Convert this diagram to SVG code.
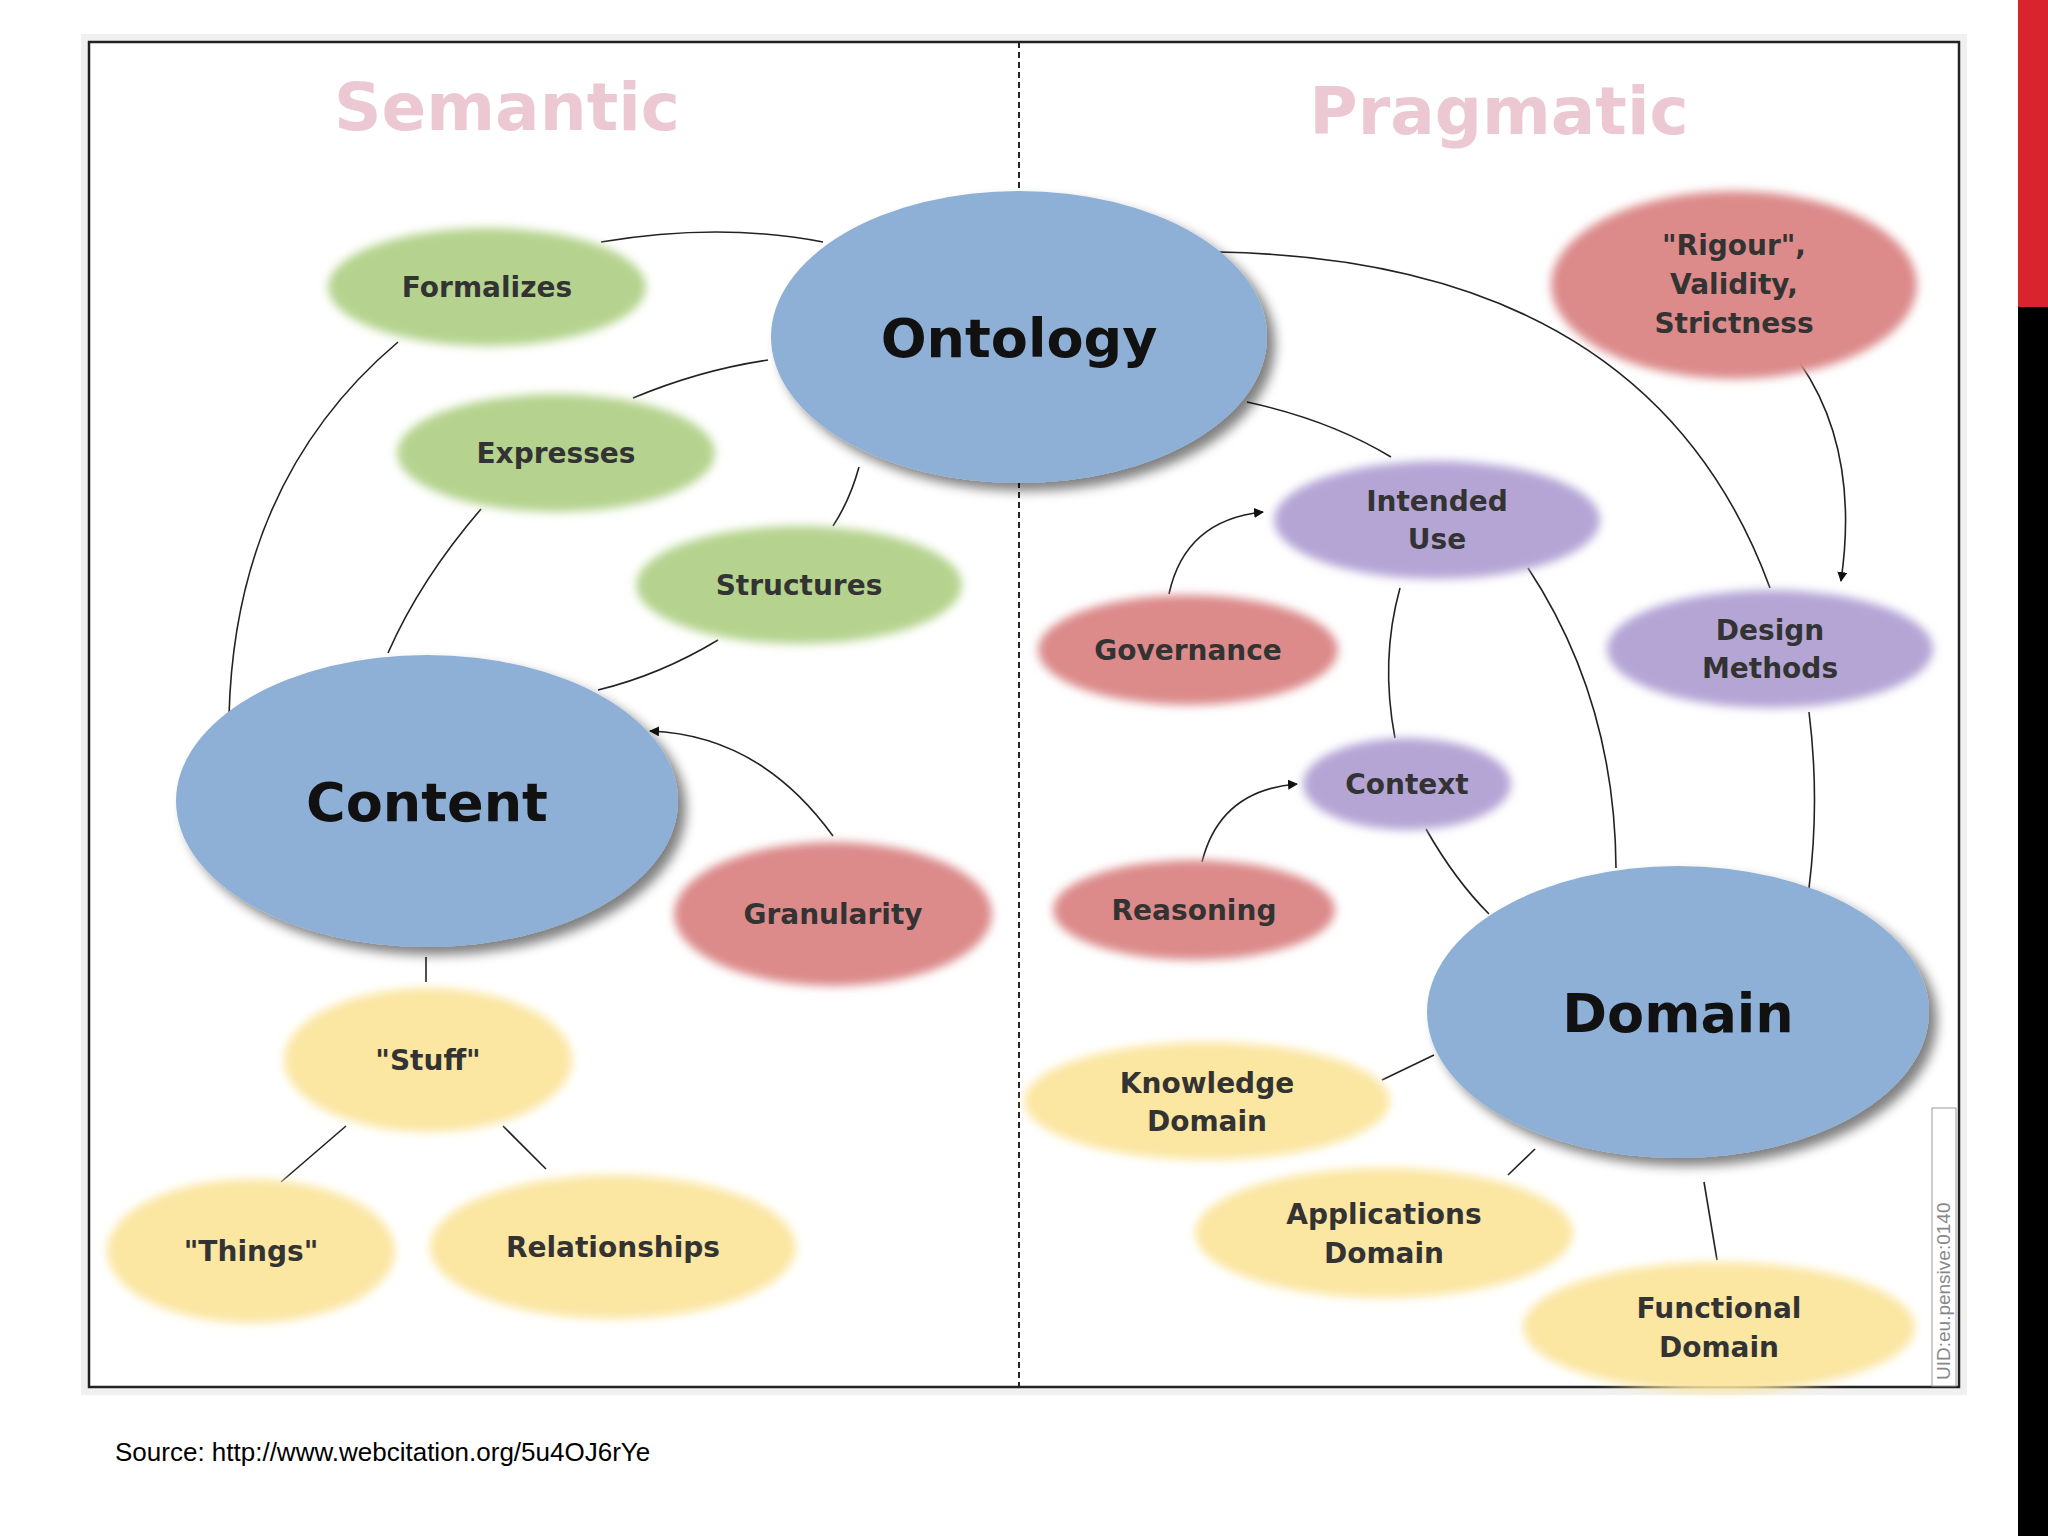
<svg xmlns="http://www.w3.org/2000/svg" width="2048" height="1536" viewBox="0 0 2048 1536">
<defs>
<filter id="soft" x="-20%" y="-20%" width="140%" height="140%"><feGaussianBlur stdDeviation="5"/></filter>
<filter id="sh" x="-20%" y="-20%" width="150%" height="150%"><feGaussianBlur in="SourceAlpha" stdDeviation="6"/><feOffset dx="8" dy="8"/><feComponentTransfer><feFuncA type="linear" slope="0.5"/></feComponentTransfer><feMerge><feMergeNode/><feMergeNode in="SourceGraphic"/></feMerge></filter>
<marker id="ah" viewBox="0 0 10 10" refX="9" refY="5" markerWidth="10" markerHeight="10" orient="auto" markerUnits="userSpaceOnUse"><path d="M0,0 L10,5 L0,10 z" fill="#111"/></marker>
</defs>
<style>
.g{fill:#b5d38e}.b{fill:#8fb0d6}.r{fill:#dc8a8a}.y{fill:#fbe6a2}.p{fill:#b4a5d5}
.t{font-family:"DejaVu Sans",sans-serif;font-weight:bold;font-size:28px;fill:#333;text-anchor:middle}
.big{font-family:"DejaVu Sans",sans-serif;font-weight:bold;font-size:54px;fill:#111;text-anchor:middle}
.ttl{font-family:"DejaVu Sans",sans-serif;font-weight:bold;font-size:66px;fill:#ecc9d2;text-anchor:middle}
.c path{fill:none;stroke:#222;stroke-width:1.6}
</style>
<rect width="2048" height="1536" fill="#fff"/>
<rect x="2018" y="0" width="30" height="307" fill="#d9232d"/>
<rect x="2018" y="307" width="30" height="1229" fill="#000"/>
<rect x="81" y="34" width="1886" height="1361" fill="#f0f0f0"/>
<rect x="89" y="42" width="1870" height="1345" fill="#fff" stroke="#222" stroke-width="2.5"/>
<line x1="1019" y1="42" x2="1019" y2="1387" stroke="#222" stroke-width="2" stroke-dasharray="6,4"/>
<text class="ttl" x="507" y="130">Semantic</text>
<text class="ttl" x="1499" y="134">Pragmatic</text>
<g class="c">
<path d="M601,242 Q720,222 823,242"/>
<path d="M398,342 Q235,480 229,716"/>
<path d="M633,398 Q700,370 768,360"/>
<path d="M481,509 Q420,580 388,653"/>
<path d="M833,526 Q850,500 859,467"/>
<path d="M718,640 Q660,675 598,690"/>
<path d="M833,836 Q760,735 650,731" marker-end="url(#ah)"/>
<path d="M426,957 L426,982"/>
<path d="M346,1126 L281,1182"/>
<path d="M503,1126 L546,1169"/>
<path d="M1218,252 Q1650,260 1770,588"/>
<path d="M1800,363 Q1860,450 1841,581" marker-end="url(#ah)"/>
<path d="M1247,402 Q1330,420 1391,457"/>
<path d="M1169,594 Q1185,520 1263,512" marker-end="url(#ah)"/>
<path d="M1400,588 Q1380,660 1395,738"/>
<path d="M1528,568 Q1615,700 1616,868"/>
<path d="M1809,712 Q1820,800 1809,888"/>
<path d="M1202,862 Q1220,790 1297,784" marker-end="url(#ah)"/>
<path d="M1426,829 Q1455,880 1489,914"/>
<path d="M1382,1080 L1434,1055"/>
<path d="M1508,1175 L1535,1149"/>
<path d="M1704,1182 L1717,1260"/>
</g>
<g id="ontology"><ellipse class="b" cx="1019" cy="337" rx="248" ry="146" filter="url(#sh)"/><text class="big" x="1019" y="357">Ontology</text></g>
<g id="content"><ellipse class="b" cx="427" cy="801" rx="251" ry="146" filter="url(#sh)"/><text class="big" x="427" y="821">Content</text></g>
<g id="domain"><ellipse class="b" cx="1678" cy="1012" rx="251" ry="146" filter="url(#sh)"/><text class="big" x="1678" y="1032">Domain</text></g>
<g id="formalizes"><ellipse class="g" cx="487" cy="287" rx="159" ry="59" filter="url(#soft)"/><text class="t" x="487" y="297">Formalizes</text></g>
<g id="expresses"><ellipse class="g" cx="556" cy="453" rx="159" ry="59" filter="url(#soft)"/><text class="t" x="556" y="463">Expresses</text></g>
<g id="structures"><ellipse class="g" cx="799" cy="585" rx="163" ry="59" filter="url(#soft)"/><text class="t" x="799" y="595">Structures</text></g>
<g id="granularity"><ellipse class="r" cx="833" cy="914" rx="159" ry="72" filter="url(#soft)"/><text class="t" x="833" y="924">Granularity</text></g>
<g id="stuff"><ellipse class="y" cx="428" cy="1060" rx="144" ry="72" filter="url(#soft)"/><text class="t" x="428" y="1070">"Stuff"</text></g>
<g id="things"><ellipse class="y" cx="251" cy="1251" rx="144" ry="72" filter="url(#soft)"/><text class="t" x="251" y="1261">"Things"</text></g>
<g id="relationships"><ellipse class="y" cx="613" cy="1247" rx="183" ry="72" filter="url(#soft)"/><text class="t" x="613" y="1257">Relationships</text></g>
<g id="rigour"><ellipse class="r" cx="1734" cy="285" rx="183" ry="94" filter="url(#soft)"/><text class="t" x="1734" y="255">"Rigour",</text><text class="t" x="1734" y="294">Validity,</text><text class="t" x="1734" y="333">Strictness</text></g>
<g id="intended"><ellipse class="p" cx="1437" cy="520" rx="163" ry="59" filter="url(#soft)"/><text class="t" x="1437" y="511">Intended</text><text class="t" x="1437" y="549">Use</text></g>
<g id="governance"><ellipse class="r" cx="1188" cy="650" rx="150" ry="55" filter="url(#soft)"/><text class="t" x="1188" y="660">Governance</text></g>
<g id="design"><ellipse class="p" cx="1770" cy="649" rx="163" ry="59" filter="url(#soft)"/><text class="t" x="1770" y="640">Design</text><text class="t" x="1770" y="678">Methods</text></g>
<g id="context"><ellipse class="p" cx="1407" cy="784" rx="104" ry="46" filter="url(#soft)"/><text class="t" x="1407" y="794">Context</text></g>
<g id="reasoning"><ellipse class="r" cx="1194" cy="910" rx="141" ry="50" filter="url(#soft)"/><text class="t" x="1194" y="920">Reasoning</text></g>
<g id="knowledge"><ellipse class="y" cx="1207" cy="1101" rx="183" ry="59" filter="url(#soft)"/><text class="t" x="1207" y="1093">Knowledge</text><text class="t" x="1207" y="1131">Domain</text></g>
<g id="applications"><ellipse class="y" cx="1384" cy="1233" rx="189" ry="65" filter="url(#soft)"/><text class="t" x="1384" y="1224">Applications</text><text class="t" x="1384" y="1263">Domain</text></g>
<g id="functional"><ellipse class="y" cx="1719" cy="1327" rx="196" ry="65" filter="url(#soft)"/><text class="t" x="1719" y="1318">Functional</text><text class="t" x="1719" y="1357">Domain</text></g>
<rect x="1932" y="1108" width="24" height="278" fill="#fff" stroke="#999" stroke-width="1"/>
<text x="1950" y="1380" transform="rotate(-90 1950 1380)" font-family="Liberation Sans, sans-serif" font-size="19" fill="#888">UID:eu.pensive:0140</text>
<text x="115" y="1461" font-family="Liberation Sans, Arial, sans-serif" font-size="26" fill="#000">Source: http://www.webcitation.org/5u4OJ6rYe</text>
</svg>
